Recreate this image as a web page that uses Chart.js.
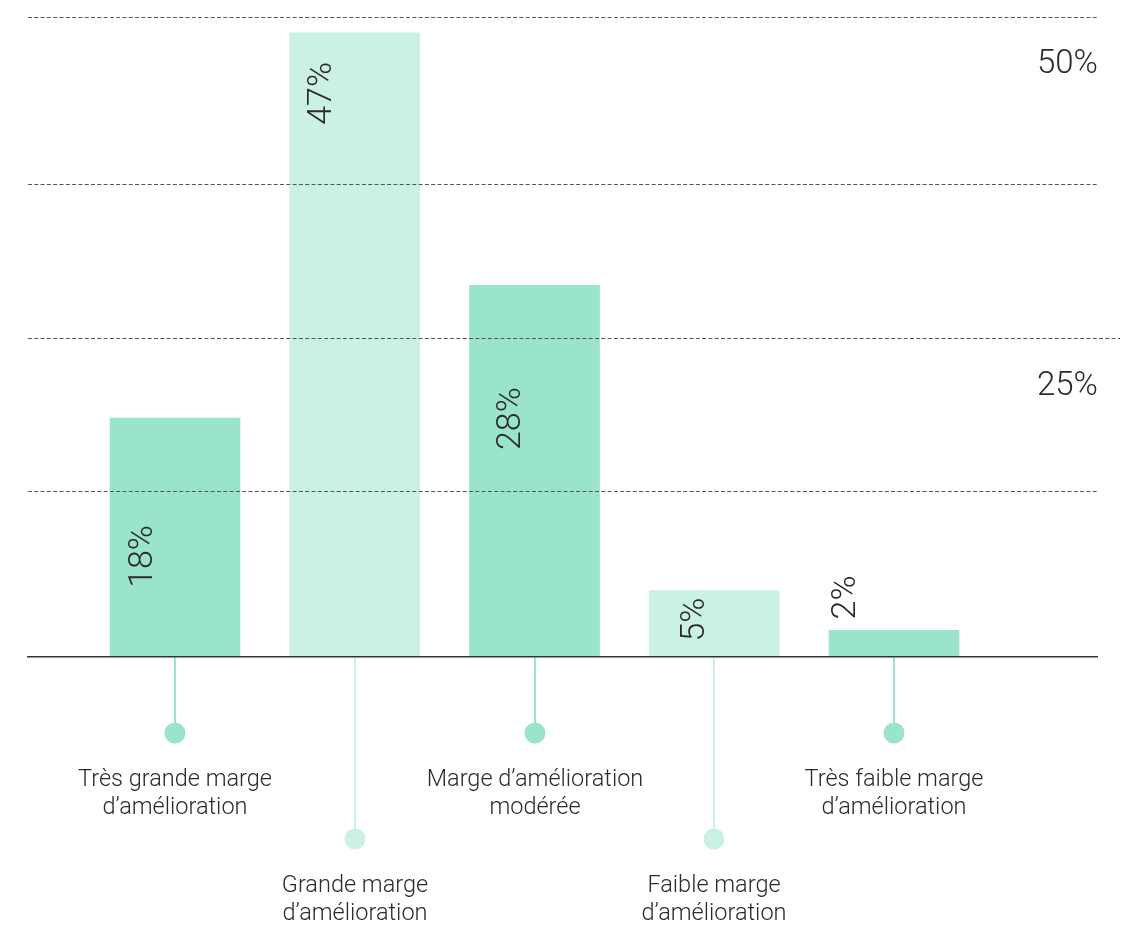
<!DOCTYPE html>
<html>
<head>
<meta charset="utf-8">
<script src="https://cdn.jsdelivr.net/npm/chart.js@4.4.1/dist/chart.umd.min.js"></script>
<style>
  html, body { margin: 0; padding: 0; background: #ffffff; }
  #wrap { width: 1139px; height: 928px; }
</style>
</head>
<body>
<div id="wrap"><canvas id="c" width="1139" height="928"></canvas></div>
<script>
// Categories (two-line labels) and their shares in percent
const categories = [
  ["Très grande marge", "d’amélioration"],
  ["Grande marge", "d’amélioration"],
  ["Marge d’amélioration", "modérée"],
  ["Faible marge", "d’amélioration"],
  ["Très faible marge", "d’amélioration"]
];
const shares = [18, 47, 28, 5, 2];

// Reference lines and the labels printed under them
const gridValues = [12.5, 24, 35.6, 48.2];
const gridLabels = ["", "25%", "", "50%"];

// Styling
const DARK = "#9ae3cc";
const LIGHT = "#cbf1e4";
const barColors = [DARK, LIGHT, DARK, LIGHT, DARK];
const labelRow = [0, 1, 0, 1, 0];              // staggered caption rows
const gridOverhang = [0, 23, 0, 0];            // extra reach to the right, px
// value label placement: [dx of text baseline from bar centre, dy of text end from bar top]
const valueLabelShift = [[-23, 107], [-24, 29], [-15, 102], [-10, 7], [-39, -55]];
const TEXT = "#2b2b2b";
const FONT = "Roboto, 'Liberation Sans', sans-serif";

const valueLabels = {
  id: "valueLabels",
  afterDatasetsDraw(chart) {
    const { ctx } = chart;
    const meta = chart.getDatasetMeta(0);
    ctx.save();
    ctx.fillStyle = TEXT;
    ctx.font = "300 34px " + FONT;
    ctx.textAlign = "right";
    ctx.textBaseline = "alphabetic";
    meta.data.forEach((bar, i) => {
      const [dx, dy] = valueLabelShift[i];
      ctx.save();
      ctx.translate(bar.x + dx, bar.y + dy);
      ctx.rotate(-Math.PI / 2);
      ctx.fillText(shares[i] + "%", 0, 0);
      ctx.restore();
    });
    ctx.restore();
  }
};

const gridExtension = {
  id: "gridExtension",
  afterDatasetsDraw(chart) {
    const { ctx, chartArea, scales } = chart;
    ctx.save();
    ctx.strokeStyle = "#555555";
    ctx.lineWidth = 1;
    ctx.setLineDash([4, 2.3]);
    gridValues.forEach((v, i) => {
      if (!gridOverhang[i]) return;
      const y = Math.round(scales.y.getPixelForValue(v)) + 0.5;
      ctx.lineDashOffset = chartArea.right - chartArea.left;
      ctx.beginPath();
      ctx.moveTo(chartArea.right, y);
      ctx.lineTo(chartArea.right + gridOverhang[i], y);
      ctx.stroke();
    });
    ctx.restore();
  }
};

const captions = {
  id: "captions",
  afterDraw(chart) {
    const { ctx, scales } = chart;
    const base = scales.y.getPixelForValue(0);
    ctx.save();
    categories.forEach((lines, i) => {
      const x = Math.round(scales.x.getPixelForValue(i));
      const dotY = base + (labelRow[i] ? 182 : 76);
      ctx.strokeStyle = barColors[i];
      ctx.lineWidth = 2;
      ctx.beginPath();
      ctx.moveTo(x, base + 1);
      ctx.lineTo(x, dotY);
      ctx.stroke();
      ctx.fillStyle = barColors[i];
      ctx.beginPath();
      ctx.arc(x, dotY, 10.5, 0, Math.PI * 2);
      ctx.fill();
      ctx.fillStyle = TEXT;
      ctx.font = "300 23.5px " + FONT;
      ctx.textAlign = "center";
      ctx.textBaseline = "middle";
      lines.forEach((t, k) => ctx.fillText(t, x, dotY + 47 + k * 28));
    });
    ctx.restore();
  }
};

new Chart(document.getElementById("c"), {
  type: "bar",
  data: {
    datasets: [{
      data: shares.map((v, i) => ({ x: i, y: v })),
      backgroundColor: barColors,
      borderWidth: 0,
      barThickness: 130
    }]
  },
  options: {
    responsive: false,
    animation: false,
    devicePixelRatio: 1,
    layout: { padding: { left: 28, right: 42, top: 17, bottom: 271 } },
    plugins: { legend: { display: false }, tooltip: { enabled: false } },
    scales: {
      x: {
        type: "linear",
        offset: false,
        min: -0.818,
        max: 5.129,
        grid: { display: false, drawTicks: false, offset: false },
        ticks: { display: false },
        border: { display: true, color: "#333333", width: 1.5, z: 1 },
        afterFit(s) { s.height = 0; s.paddingLeft = 0; s.paddingRight = 0; }
      },
      y: {
        position: "right",
        min: 0,
        max: 48.2,
        afterBuildTicks(s) { s.ticks = gridValues.map(v => ({ value: v })); },
        afterFit(s) { s.width = 0; s.paddingTop = 0; s.paddingBottom = 0; },
        grid: { color: "#555555", lineWidth: 1, drawTicks: false, z: 1 },
        border: { display: false, dash: [4, 2.3] },
        ticks: {
          mirror: true,
          padding: 1,
          labelOffset: 48,
          color: TEXT,
          font: { family: FONT, size: 33, weight: 300 },
          callback: (v, i) => gridLabels[i]
        }
      }
    }
  },
  plugins: [valueLabels, gridExtension, captions]
});
</script>
</body>
</html>
